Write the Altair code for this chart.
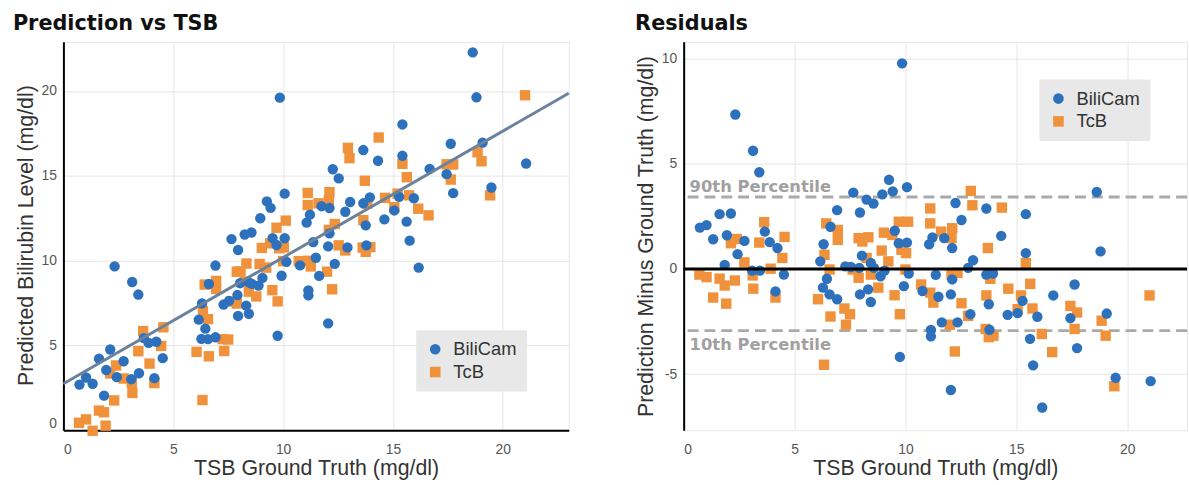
import altair as alt
import pandas as pd

# ---- data (TSB ground truth, prediction minus ground truth) ----
bilicam_tsb = [0.73, 1.03, 1.33, 1.62, 1.85, 1.95, 2.13, 2.33, 2.43, 2.74, 3.09, 3.13, 3.41, 3.44, 3.66, 3.88, 4.14, 4.23, 4.52,
               6.16, 6.28, 6.31, 6.46, 6.58, 6.62, 6.92, 6.92, 7.29, 7.54, 7.65, 7.92, 7.95, 7.95, 8.04, 8.25, 8.32, 8.44, 8.44,
               8.56, 8.58, 8.88, 8.96, 9.06, 9.26, 9.43, 9.52, 9.70, 9.75, 9.85, 9.93, 10.07, 10.07, 10.15, 10.77, 11.07, 11.15,
               11.15, 11.22, 11.37, 11.49, 11.64, 11.75, 12.05, 12.05, 12.11, 12.11, 12.26, 12.35, 12.53,
               12.83, 12.93, 13.05, 13.65, 13.65, 13.76, 13.79, 13.95, 14.32, 14.61, 15.06, 15.28, 15.43, 15.43, 15.62, 15.76,
               15.95, 16.17, 16.67, 17.44, 17.63, 17.74, 18.63, 18.80, 19.08, 19.48, 21.06]
bilicam_resid = [1.96, 2.08, 1.41, 2.60, 0.19, 1.60, 2.63, 7.33, 0.70, 1.33, -0.08, 5.61, 4.59, -0.08, 1.77, 1.27, -1.07, 0.99, -0.27,
                 0.36, -0.89, 1.17, -0.47, -1.21, 2.00, 2.79, -1.44, 0.12, 0.09, 3.62, 0.05, 2.68, -1.21, 0.63, 3.29, -0.97, 0.28, -1.57,
                 3.10, 0.05, -0.35, 3.54, -0.08, 4.23, 3.68, 1.81, 1.22, -4.18, 9.76, -0.82, 3.88, 1.25, -0.22, -1.05, 1.17, -2.90,
                 -3.20, 1.49, -0.28, -1.32, -2.54, 1.46, -1.21, -5.75, 0.99, -0.50, 3.13, -2.54, 2.32,
                 0.05, -2.15, 0.41, 2.87, -0.27, -1.68, -2.89, -0.22, 1.57, -2.18, -2.10, -1.52, 2.60, 0.75, -3.32, -4.58,
                 -2.27, -6.58, -1.26, -2.34, -0.74, -3.76, 3.65, 0.83, -2.12, -5.17, -5.33]

tcb_tsb = [0.71, 1.03, 1.33, 1.62, 1.85, 1.92, 2.13, 2.31, 2.40, 2.74, 3.11, 3.14, 3.41, 3.63, 3.92, 4.14, 4.45, 4.55,
           6.06, 6.33, 6.35, 6.43, 6.58, 6.62, 6.95, 6.95, 7.25, 7.32, 7.50, 7.62, 7.89, 7.89, 8.06, 8.25, 8.33, 8.44, 8.78,
           8.93, 9.03, 9.23, 9.41, 9.51, 9.70, 9.75, 9.82, 10.00, 10.03, 10.12, 10.71, 11.12, 11.12, 11.12, 11.26, 11.61,
           12.00, 12.08, 12.08, 12.11, 12.23, 12.35, 12.53,
           12.83, 12.95, 13.02, 13.62, 13.65, 13.72, 13.76, 13.83, 13.97, 14.35, 14.64, 15.06, 15.21, 15.43, 15.63, 15.73,
           16.15, 16.62, 17.44, 17.63, 17.74, 18.85, 19.03, 19.42, 21.01]
tcb_resid = [-0.27, -0.39, -1.36, -0.46, -0.79, -1.65, 1.22, -0.55, 1.42, 0.31, -0.31, -0.94, 1.25, 2.22, 0.01, -1.36, 0.52, 1.52,
             -1.44, -4.55, 0.67, 2.16, -0.03, -2.26, 1.85, 1.38, -1.88, -2.65, -2.15, -0.03, 1.46, -0.42, 1.30, 0.52, 1.50, -0.27, -0.89,
             0.87, 1.72, 0.36, 1.61, -1.25, 2.24, -2.15, 0.91, -0.03, 0.75, 2.24, -0.74, 2.87, 2.16, -1.13, -1.60, 1.77,
             -2.65, 1.46, -0.27, 1.93, -3.92, -0.19, -1.63,
             -2.23, 3.70, 3.02, -2.85, -1.26, 0.99, -3.24, -0.47, -3.17, 2.91, -0.94, -1.91, -1.26, 0.28, -0.71, -1.88,
             -3.09, -3.95, -1.76, -2.85, -2.07, -2.46, -3.17, -5.57, -1.26]

series_names = ["BiliCam", "TcB"]
series_colors = ["#2d71bd", "#f0923b"]
series_shapes = ["circle", "square"]

fit_tsb = [0, 23]
fit_pred = [2.74, 19.87]

pct_values = [3.41, -2.93]
pct_labels = ["90th Percentile", "10th Percentile"]

x_ticks = [0, 5, 10, 15, 20]
left_y_ticks = [0, 5, 10, 15, 20]
right_y_ticks = [-5, 0, 5, 10]

# ---- tables ----
rows = []
for t, r in zip(tcb_tsb, tcb_resid):
    rows.append({"series": "TcB", "tsb": t, "resid": r, "pred": round(t + r, 3)})
for t, r in zip(bilicam_tsb, bilicam_resid):
    rows.append({"series": "BiliCam", "tsb": t, "resid": r, "pred": round(t + r, 3)})
df = pd.DataFrame(rows)
fit_df = pd.DataFrame({"tsb": fit_tsb, "pred": fit_pred})
pct_df = pd.DataFrame({"resid": pct_values, "label": pct_labels})
zero_df = pd.DataFrame({"resid": [0]})

AX_FONT = "Liberation Sans"


def legend(lx, ly):
    return alt.Legend(orient="none", legendX=lx, legendY=ly, title=None, fillColor="#e8e8e8",
                      padding=10, labelFont=AX_FONT, labelFontSize=18.5, labelColor="#333333",
                      symbolSize=115, rowPadding=4, labelOffset=9, symbolStrokeWidth=0)


color_scale = alt.Scale(domain=series_names, range=series_colors)
shape_scale = alt.Scale(domain=series_names, range=series_shapes)

# ---- left panel ----
lx = alt.X("tsb:Q", scale=alt.Scale(domain=[0, 23], nice=False, zero=False),
           axis=alt.Axis(values=x_ticks, title="TSB Ground Truth (mg/dl)", titleY=45,
                         titleBaseline="alphabetic", labelPadding=12, labelFlush=True))
ly = alt.Y("pred:Q", scale=alt.Scale(domain=[0, 22.9], nice=False, zero=False),
           axis=alt.Axis(values=left_y_ticks, title="Predicted Bilirubin Level (mg/dl)", titleX=-31,
                         titleY=195, titleBaseline="alphabetic", labelPadding=7, labelFlush=True))

left_pts = alt.Chart(df).mark_point(filled=True, size=110, opacity=1).encode(
    x=lx, y=ly,
    color=alt.Color("series:N", scale=color_scale, legend=legend(356, 291)),
    shape=alt.Shape("series:N", scale=shape_scale, legend=legend(356, 291)),
)
left_fit = alt.Chart(fit_df).mark_line(color="#6b829c", strokeWidth=3).encode(x=lx, y=ly)

left = alt.layer(left_pts, left_fit).properties(
    width=510, height=392,
    title=alt.TitleParams("Prediction vs TSB", anchor="start", frame="group", dx=-51, offset=-9,
                          baseline="alphabetic", font="DejaVu Sans", fontSize=21, fontWeight="bold",
                          color="#111111"),
)

# ---- right panel ----
rx = alt.X("tsb:Q", scale=alt.Scale(domain=[0, 22.7], nice=False, zero=False),
           axis=alt.Axis(values=x_ticks, title="TSB Ground Truth (mg/dl)", titleY=45, domain=False,
                         titleBaseline="alphabetic", labelPadding=12, labelFlush=True))
ry = alt.Y("resid:Q", scale=alt.Scale(domain=[-7.66, 10.78], nice=False, zero=False),
           axis=alt.Axis(values=right_y_ticks, title="Prediction Minus Ground Truth (mg/dl)", titleX=-31,
                         titleY=196, titleBaseline="alphabetic", labelPadding=7, labelFlush=False,
                         labelExpr="datum.value + ''"))

zero_rule = alt.Chart(zero_df).mark_rule(color="black", strokeWidth=3).encode(y=ry)
pct_rules = alt.Chart(pct_df).mark_rule(color="#aaaaaa", strokeWidth=3, strokeDash=[11, 6]).encode(y=ry)
pct_top = alt.Chart(pct_df).transform_filter(alt.datum.resid > 0).mark_text(
    align="left", baseline="alphabetic", dy=-5, font="DejaVu Sans", fontSize=16.5, fontWeight="bold",
    color="#a0a0a0").encode(y=ry, x=alt.value(6), text="label:N")
pct_bot = alt.Chart(pct_df).transform_filter(alt.datum.resid < 0).mark_text(
    align="left", baseline="alphabetic", dy=20, font="DejaVu Sans", fontSize=16.5, fontWeight="bold",
    color="#a0a0a0").encode(y=ry, x=alt.value(6), text="label:N")
right_pts = alt.Chart(df).mark_point(filled=True, size=110, opacity=1).encode(
    x=rx, y=ry,
    color=alt.Color("series:N", scale=color_scale, legend=legend(359, 38)),
    shape=alt.Shape("series:N", scale=shape_scale, legend=legend(359, 38)),
)

right = alt.layer(pct_rules, pct_top, pct_bot, right_pts, zero_rule).properties(
    width=508, height=392,
    title=alt.TitleParams("Residuals", anchor="start", frame="group", dx=-49, offset=-9,
                          baseline="alphabetic", font="DejaVu Sans", fontSize=21, fontWeight="bold",
                          color="#111111"),
)

chart = alt.hconcat(left, right, spacing=59).resolve_legend(color="independent", shape="independent").properties(
    padding={"left": 12, "top": 10, "right": 0, "bottom": 0},
    background="white",
).configure_axis(
    gridColor="#e6e6e6", gridWidth=1, ticks=False,
    labelFont=AX_FONT, labelFontSize=14, labelColor="#555555",
    titleFont=AX_FONT, titleFontSize=21.5, titleColor="#333333", titleFontWeight="normal",
    domainColor="black", domainWidth=2,
).configure_view(stroke="#e6e6e6", strokeWidth=1)

chart.save("out.html", embed_options={"renderer": "svg", "actions": False})
